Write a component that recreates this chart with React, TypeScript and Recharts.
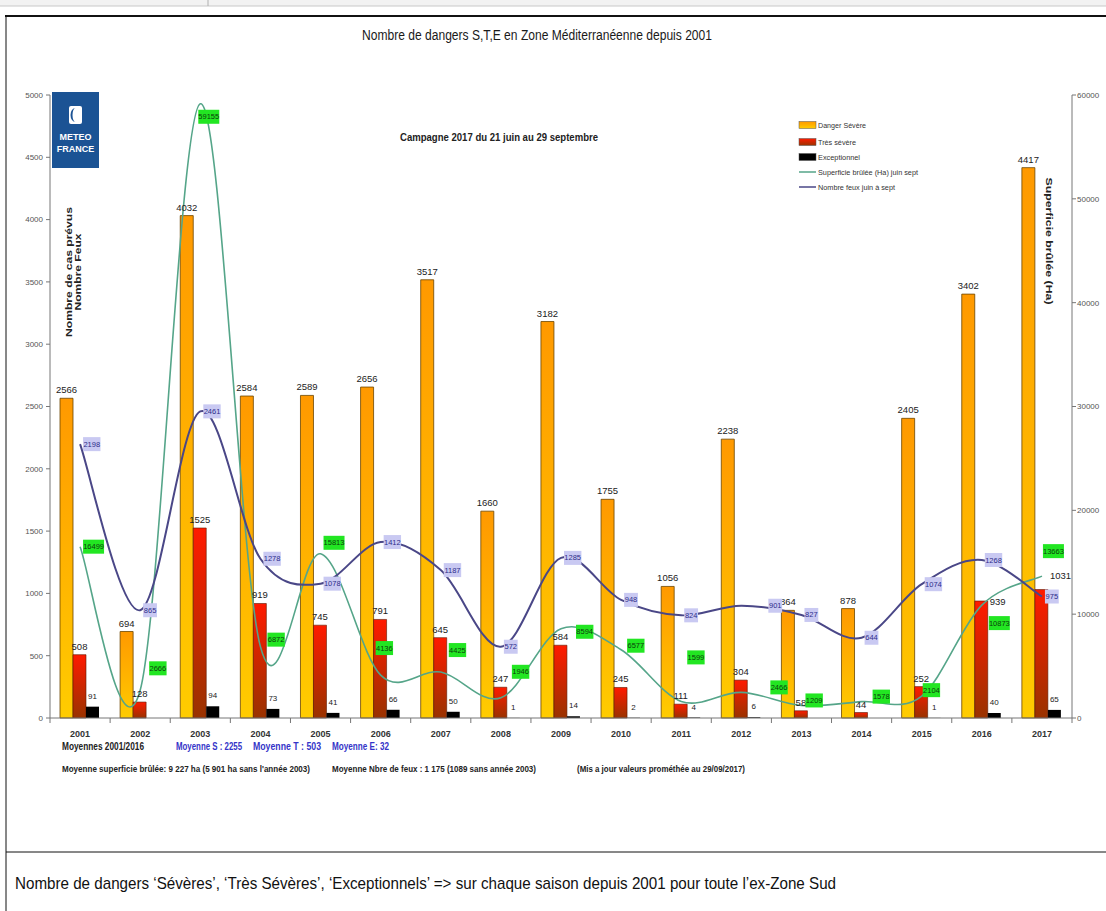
import React from 'react';
import { ComposedChart, Bar, Line, XAxis, YAxis, LabelList } from 'recharts';

const NARROW = "'Liberation Sans Narrow', 'Arial Narrow', 'Liberation Sans', Arial, sans-serif";
const SANS = "'Liberation Sans', Arial, sans-serif";

const W = 1106;
const H = 911;
const PLOT_LEFT = 50;
const PLOT_RIGHT = 1072;
const PLOT_TOP = 95;
const PLOT_BOTTOM = 718;

const years = ['2001', '2002', '2003', '2004', '2005', '2006', '2007', '2008', '2009', '2010', '2011', '2012', '2013', '2014', '2015', '2016', '2017'];
const severe = [2566, 694, 4032, 2584, 2589, 2656, 3517, 1660, 3182, 1755, 1056, 2238, 864, 878, 2405, 3402, 4417];
const tresSevere = [508, 128, 1525, 919, 745, 791, 645, 247, 584, 245, 111, 304, 58, 44, 252, 939, 1031];
const exceptionnel = [91, null, 94, 73, 41, 66, 50, 1, 14, 2, 4, 6, null, null, 1, 40, 65];
const superficie = [16499, 2666, 59155, 6872, 15813, 4136, 4425, 1946, 8594, 6577, 1599, 2466, 1209, 1578, 2104, 10873, 13663];
const nbFeux = [2198, 865, 2461, 1278, 1078, 1412, 1187, 572, 1285, 948, 824, 901, 827, 644, 1074, 1268, 975];
const leftTicks = [0, 500, 1000, 1500, 2000, 2500, 3000, 3500, 4000, 4500, 5000];
const rightTicks = [0, 10000, 20000, 30000, 40000, 50000, 60000];

// label placement nudges (styling only), [dx, dy] from the point
const GREEN_NUDGE: [number, number][] = [
  [3, 0], [9, -22], [-2, 13], [7, -7], [3, -11], [-5, -27], [8, -22], [11, -26], [15, 3],
  [6, -4], [6, -44], [29, -5], [4, -5], [11, -5], [1, -6], [7, 18], [1, -25],
];
const PURPLE_NUDGE: Record<number, [number, number]> = { 11: [27, 0] };
const RED_LABEL_RIGHT: Record<number, number> = { 15: 0, 16: -14 };

const legendItems = [
  { label: 'Danger Sévère', kind: 'bar', color: 'url(#gOrangeL)' },
  { label: 'Très sévère', kind: 'bar', color: 'url(#gRedL)' },
  { label: 'Exceptionnel', kind: 'bar', color: '#000' },
  { label: 'Superficie brûlée (Ha) juin sept', kind: 'line', color: '#55a589' },
  { label: 'Nombre feux juin à sept', kind: 'line', color: '#4a4787' },
];
const legendLengths = [48, 38, 42, 100, 77];

const data = years.map((y, i) => ({
  year: y,
  s: severe[i],
  t: tresSevere[i],
  e: exceptionnel[i],
  sup: superficie[i],
  feux: nbFeux[i],
}));

const BAND = (PLOT_RIGHT - PLOT_LEFT) / years.length;

// Catmull-Rom style smoothing similar to Excel's smoothed lines
function smoothCurve(context: any) {
  let pts: [number, number][] = [];
  return {
    areaStart() {},
    areaEnd() {},
    lineStart() {
      pts = [];
    },
    point(x: number, y: number) {
      pts.push([+x, +y]);
    },
    lineEnd() {
      if (!pts.length) return;
      context.moveTo(pts[0][0], pts[0][1]);
      const k = 1 / 6;
      for (let i = 0; i < pts.length - 1; i++) {
        const p0 = pts[i - 1] || pts[i];
        const p1 = pts[i];
        const p2 = pts[i + 1];
        const p3 = pts[i + 2] || p2;
        context.bezierCurveTo(
          p1[0] + k * (p2[0] - p0[0]),
          p1[1] + k * (p2[1] - p0[1]),
          p2[0] - k * (p3[0] - p1[0]),
          p2[1] - k * (p3[1] - p1[1]),
          p2[0],
          p2[1]
        );
      }
    },
  };
}

const XTick = (props: any) => {
  const { x, y, payload, index } = props;
  const axisY = y - 5;
  return (
    <g>
      {index === 0 && (
        <line x1={x - BAND / 2} x2={x - BAND / 2} y1={axisY} y2={axisY + 5} stroke="#777" />
      )}
      <line x1={x + BAND / 2} x2={x + BAND / 2} y1={axisY} y2={axisY + 5} stroke="#777" />
      <text x={x} y={y + 14} textAnchor="middle" fontSize={9} fontWeight="bold" fill="#333" fontFamily={NARROW}>
        {payload.value}
      </text>
    </g>
  );
};

const barLabel = (size: number, dy: number) => (props: any) => {
  const { x, y, width, value } = props;
  if (value == null) return null;
  return (
    <text x={x + width / 2} y={y - dy} textAnchor="middle" fontSize={size} fill="#222" fontFamily={NARROW}>
      {value}
    </text>
  );
};

const redLabel = (props: any) => {
  const { x, y, width, value, index } = props;
  if (value == null) return null;
  if (RED_LABEL_RIGHT[index] !== undefined) {
    return (
      <text x={x + width + 2} y={y + RED_LABEL_RIGHT[index] + 3.5} fontSize={9.5} fill="#222" fontFamily={NARROW}>
        {value}
      </text>
    );
  }
  return (
    <text x={x + width / 2} y={y - 5} textAnchor="middle" fontSize={9.5} fill="#222" fontFamily={NARROW}>
      {value}
    </text>
  );
};

const boxLabel = (bg: string, fg: string, nudge: (i: number) => [number, number]) => (props: any) => {
  const { x, y, value, index } = props;
  if (value == null) return null;
  const [dx, dy] = nudge(index);
  const s = String(value);
  const w = s.length * 3.6 + 3;
  const bx = x + dx;
  const cy = y + dy;
  return (
    <g>
      <rect x={bx} y={cy - 7} width={w} height={14} fill={bg} />
      <text x={bx + w / 2} y={cy + 2.5} textAnchor="middle" fontSize={7.5} fill={fg} fontFamily={NARROW}>
        {s}
      </text>
    </g>
  );
};

const Overlay = () => (
  <svg width={W} height={H} style={{ position: 'absolute', left: 0, top: 0, pointerEvents: 'none' }}>
    <defs>
      <linearGradient id="gOrangeL" x1="0" y1="0" x2="0" y2="1">
        <stop offset="0" stopColor="#ff9900" />
        <stop offset="1" stopColor="#ffcc00" />
      </linearGradient>
      <linearGradient id="gRedL" x1="0" y1="0" x2="0" y2="1">
        <stop offset="0" stopColor="#ff1a00" />
        <stop offset="1" stopColor="#993300" />
      </linearGradient>
    </defs>
    {/* frame */}
    <rect x={0} y={0} width={W} height={6} fill="#f2f2f2" />
    <line x1={0} x2={W} y1={6} y2={6} stroke="#c8c8c8" />
    <line x1={208} x2={208} y1={0} y2={6} stroke="#b0b0b0" />
    <line x1={5} x2={W} y1={16} y2={16} stroke="#111" strokeWidth={2} />
    <line x1={6} x2={6} y1={16} y2={H} stroke="#111" strokeWidth={1} />
    <line x1={6} x2={W} y1={852} y2={852} stroke="#111" strokeWidth={1} />

    {/* title */}
    <text x={537} y={40} textAnchor="middle" fontSize={14} fill="#1a1a1a" fontFamily={NARROW} textLength={350} lengthAdjust="spacingAndGlyphs">
      Nombre de dangers S,T,E  en Zone Méditerranéenne depuis 2001
    </text>
    <text x={400} y={141} fontSize={11} fontWeight="bold" fill="#222" fontFamily={NARROW} textLength={198} lengthAdjust="spacingAndGlyphs">
      Campagne 2017  du 21 juin au 29 septembre
    </text>

    {/* logo */}
    <rect x={52} y={92} width={47} height={76} fill="#1b5394" />
    <rect x={69} y={106} width={13} height={18} rx={2} fill="#ffffff" />
    <path d="M75.5 108 a5 7 0 0 0 0 14 a3 7 0 0 1 0 -14 z" fill="#1b5394" />
    <text x={75.5} y={140} textAnchor="middle" fontSize={9} fontWeight="bold" fill="#fff" fontFamily={NARROW}>METEO</text>
    <text x={75.5} y={152} textAnchor="middle" fontSize={9} fontWeight="bold" fill="#fff" fontFamily={NARROW}>FRANCE</text>

    {/* axis titles */}
    <g transform="translate(72,272) rotate(-90)">
      <text x={0} y={0} textAnchor="middle" fontSize={9} fontWeight="bold" fill="#222" fontFamily={SANS} textLength={130} lengthAdjust="spacingAndGlyphs">
        Nombre de cas prévus
      </text>
    </g>
    <g transform="translate(81,272) rotate(-90)">
      <text x={0} y={0} textAnchor="middle" fontSize={9} fontWeight="bold" fill="#222" fontFamily={SANS} textLength={77} lengthAdjust="spacingAndGlyphs">
        Nombre Feux
      </text>
    </g>
    <g transform="translate(1046,241) rotate(90)">
      <text x={0} y={0} textAnchor="middle" fontSize={9} fontWeight="bold" fill="#222" fontFamily={SANS} textLength={127} lengthAdjust="spacingAndGlyphs">
        Superficie brûlée (Ha)
      </text>
    </g>

    {/* legend */}
    {legendItems.map((it, i) => {
      const cy = [125, 142, 157, 172, 187][i];
      return (
        <g key={it.label}>
          {it.kind === 'bar' ? (
            <rect x={799} y={cy - 3.5} width={17} height={7} fill={it.color} stroke="#555" strokeWidth={0.5} />
          ) : (
            <line x1={799} x2={816} y1={cy} y2={cy} stroke={it.color} strokeWidth={1.5} />
          )}
          <text x={818} y={cy + 3} fontSize={8} fill="#333" fontFamily={NARROW} textLength={legendLengths[i]} lengthAdjust="spacingAndGlyphs">
            {it.label}
          </text>
        </g>
      );
    })}

    {/* bottom notes */}
    <text x={62} y={750} fontSize={10} fontWeight="bold" fill="#222" fontFamily={NARROW} textLength={82} lengthAdjust="spacingAndGlyphs">Moyennes 2001/2016</text>
    <text x={176} y={750} fontSize={10} fontWeight="bold" fill="#3434c8" fontFamily={NARROW} textLength={66} lengthAdjust="spacingAndGlyphs">Moyenne S : 2255</text>
    <text x={253} y={750} fontSize={10} fontWeight="bold" fill="#3434c8" fontFamily={NARROW} textLength={68} lengthAdjust="spacingAndGlyphs">Moyenne T :  503</text>
    <text x={332} y={750} fontSize={10} fontWeight="bold" fill="#3434c8" fontFamily={NARROW} textLength={57} lengthAdjust="spacingAndGlyphs">Moyenne E: 32</text>
    <text x={62} y={772} fontSize={8.5} fontWeight="bold" fill="#222" fontFamily={NARROW} textLength={248} lengthAdjust="spacingAndGlyphs">Moyenne superficie brûlée: 9 227 ha  (5 901 ha sans l'année 2003)</text>
    <text x={332} y={772} fontSize={8.5} fontWeight="bold" fill="#222" fontFamily={NARROW} textLength={204} lengthAdjust="spacingAndGlyphs">Moyenne Nbre de feux : 1 175  (1089 sans année 2003)</text>
    <text x={577} y={772} fontSize={8.5} fontWeight="bold" fill="#222" fontFamily={NARROW} textLength={168} lengthAdjust="spacingAndGlyphs">(Mis a jour valeurs prométhée au 29/09/2017)</text>

    {/* caption */}
    <text x={15} y={889} fontSize={17} fill="#111" fontFamily={SANS} textLength={821} lengthAdjust="spacingAndGlyphs">
      Nombre de dangers ‘Sévères’, ‘Très Sévères’, ‘Exceptionnels’ =&gt; sur chaque saison depuis 2001 pour toute l’ex-Zone Sud
    </text>
  </svg>
);

export default function App() {
  return (
    <div style={{ position: 'absolute', left: 0, top: 0, width: W, height: H, background: '#fff', overflow: 'hidden' }}>
      <ComposedChart
        width={W}
        height={H}
        data={data}
        margin={{ top: PLOT_TOP, right: 0, left: 0, bottom: H - PLOT_BOTTOM - 30 }}
        barCategoryGap={10}
        barGap={0}
        style={{ fontFamily: NARROW }}
      >
        <defs>
          <linearGradient id="gOrange" x1="0" y1="0" x2="0" y2="1">
            <stop offset="0" stopColor="#ff9900" />
            <stop offset="1" stopColor="#ffcc00" />
          </linearGradient>
          <linearGradient id="gRed" x1="0" y1="0" x2="0" y2="1">
            <stop offset="0" stopColor="#ff1a00" />
            <stop offset="1" stopColor="#993300" />
          </linearGradient>
        </defs>
        <XAxis
          dataKey="year"
          xAxisId="x"
          height={30}
          tick={<XTick />}
          tickLine={false}
          tickSize={5}
          tickMargin={0}
          axisLine={{ stroke: '#777' }}
          interval={0}
        />
        <YAxis
          yAxisId="left"
          width={PLOT_LEFT}
          domain={[0, 5000]}
          ticks={leftTicks}
          interval={0}
          tick={{ fontSize: 8, fill: '#555', fontFamily: NARROW }}
          tickSize={4}
          tickMargin={3}
          axisLine={{ stroke: '#777' }}
          tickLine={{ stroke: '#777' }}
        />
        <YAxis
          yAxisId="right"
          orientation="right"
          width={W - PLOT_RIGHT}
          domain={[0, 60000]}
          ticks={rightTicks}
          interval={0}
          tick={{ fontSize: 8, fill: '#555', fontFamily: NARROW }}
          tickSize={4}
          tickMargin={1}
          axisLine={{ stroke: '#777' }}
          tickLine={{ stroke: '#777' }}
        />
        <Bar dataKey="s" xAxisId="x" yAxisId="left" fill="url(#gOrange)" stroke="#6b4500" strokeWidth={0.8} isAnimationActive={false}>
          <LabelList dataKey="s" content={barLabel(9.5, 5)} />
        </Bar>
        <Bar dataKey="t" xAxisId="x" yAxisId="left" fill="url(#gRed)" stroke="#5a1a00" strokeWidth={0.6} isAnimationActive={false}>
          <LabelList dataKey="t" content={redLabel} />
        </Bar>
        <Bar dataKey="e" xAxisId="x" yAxisId="left" fill="#000" isAnimationActive={false}>
          <LabelList dataKey="e" content={barLabel(8, 8)} />
        </Bar>
        <Line
          dataKey="sup"
          xAxisId="x"
          yAxisId="right"
          type={smoothCurve as any}
          stroke="#55a589"
          strokeWidth={1.6}
          dot={false}
          isAnimationActive={false}
        >
          <LabelList dataKey="sup" content={boxLabel('#22e622', '#0b3d0b', (i) => GREEN_NUDGE[i] || [3, 0])} />
        </Line>
        <Line
          dataKey="feux"
          xAxisId="x"
          yAxisId="left"
          type={smoothCurve as any}
          stroke="#4a4787"
          strokeWidth={2}
          dot={false}
          isAnimationActive={false}
        >
          <LabelList dataKey="feux" content={boxLabel('#c9c9f2', '#2d2d8a', (i) => PURPLE_NUDGE[i] || [3, 0])} />
        </Line>
      </ComposedChart>
      <Overlay />
    </div>
  );
}
